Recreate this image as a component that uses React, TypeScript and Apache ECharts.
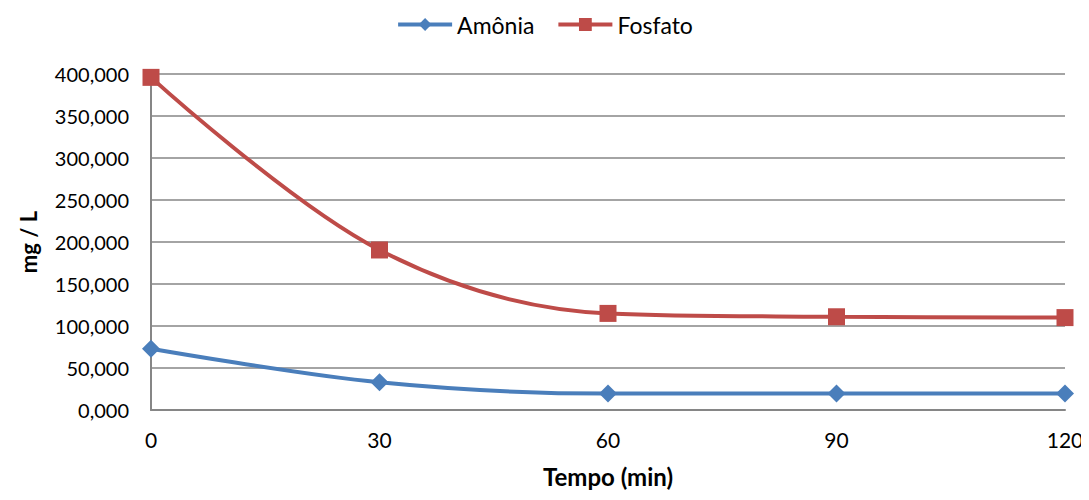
import React, { useEffect, useRef } from "react";
import * as echarts from "echarts";

const tempo = [0, 30, 60, 90, 120];
const amonia = [73, 33, 19.5, 19.5, 19.5];
const fosfato = [396, 190.5, 115, 111, 110];
const yTicks = { min: 0, max: 400, interval: 50 };

const FONT = "Lato, 'Liberation Sans Narrow', sans-serif";

export default function App() {
  const ref = useRef<HTMLDivElement>(null);
  useEffect(() => {
    if (!ref.current) return;
    const chart = echarts.init(ref.current, undefined, { renderer: "svg" });
    chart.setOption({
      animation: false,
      textStyle: { fontFamily: FONT },
      legend: {
        top: 8,
        left: "center",
        itemWidth: 54,
        itemHeight: 16,
        itemGap: 22,
        lineStyle: { width: 4 },
        textStyle: { fontSize: 23, color: "#000", fontFamily: FONT },
        data: ["Amônia", "Fosfato"],
      },
      grid: { left: 151, right: 24, top: 74, bottom: 90, containLabel: false },
      xAxis: {
        type: "value",
        min: 0,
        max: 120,
        interval: 30,
        name: "Tempo (min)",
        nameLocation: "middle",
        nameGap: 54,
        nameTextStyle: { fontSize: 24, fontWeight: "bold", color: "#000", fontFamily: FONT },
        axisLine: { show: true, lineStyle: { color: "#868686", width: 2 } },
        axisTick: { show: false },
        splitLine: { show: false },
        axisLabel: { fontSize: 21, color: "#000", margin: 19, fontFamily: FONT },
      },
      yAxis: {
        type: "value",
        min: yTicks.min,
        max: yTicks.max,
        interval: yTicks.interval,
        name: "mg / L",
        nameLocation: "middle",
        nameGap: 112,
        nameRotate: 90,
        nameTextStyle: { fontSize: 22, fontWeight: "bold", color: "#000", fontFamily: FONT },
        axisLine: { show: true, lineStyle: { color: "#868686", width: 2 } },
        axisTick: { show: false },
        splitLine: { show: true, lineStyle: { color: "#868686", width: 1.5 } },
        axisLabel: {
          fontSize: 20,
          color: "#000",
          margin: 22,
          fontFamily: FONT,
          formatter: (v: number) => v.toFixed(3).replace(".", ","),
        },
      },
      series: [
        {
          name: "Amônia",
          type: "line",
          smooth: 0.35,
          data: tempo.map((t, i) => [t, amonia[i]]),
          symbol: "diamond",
          symbolSize: 18,
          lineStyle: { color: "#4A7EBB", width: 4 },
          itemStyle: { color: "#4A7EBB" },
        },
        {
          name: "Fosfato",
          type: "line",
          smooth: 0.35,
          data: tempo.map((t, i) => [t, fosfato[i]]),
          symbol: "rect",
          symbolSize: 17,
          lineStyle: { color: "#BE4B48", width: 4 },
          itemStyle: { color: "#BE4B48" },
        },
      ],
    });
    return () => chart.dispose();
  }, []);
  return <div ref={ref} style={{ width: 1089, height: 500, margin: -8 }} />;
}
